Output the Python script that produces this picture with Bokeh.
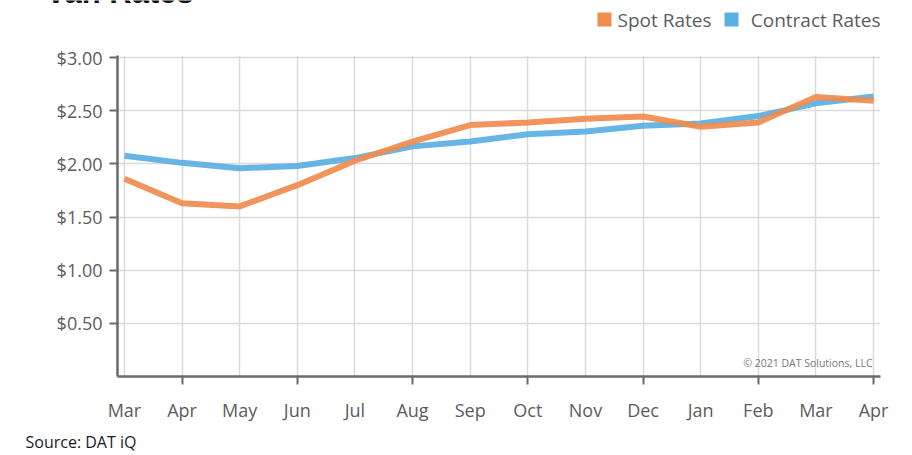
from bokeh.plotting import figure
from bokeh.layouts import column
from bokeh.models import FixedTicker, Range1d, Label, ColumnDataSource
from bokeh.embed import file_html
from bokeh.resources import INLINE

months = ["Mar", "Apr", "May", "Jun", "Jul", "Aug", "Sep", "Oct", "Nov", "Dec",
          "Jan", "Feb", "Mar", "Apr"]
spot_rates = [1.86, 1.63, 1.60, 1.80, 2.03, 2.21, 2.365, 2.39, 2.425, 2.446,
              2.35, 2.39, 2.63, 2.595]
contract_rates = [2.077, 2.01, 1.96, 1.98, 2.055, 2.165, 2.21, 2.28, 2.305, 2.36,
                  2.38, 2.45, 2.57, 2.635]
y_ticks = [0.5, 1.0, 1.5, 2.0, 2.5, 3.0]
y_labels = ["$0.50", "$1.00", "$1.50", "$2.00", "$2.50", "$3.00"]
series_names = ["Spot Rates", "Contract Rates"]

ORANGE = "#F08C4E"
BLUE = "#5AAFE3"
AXIS = "#6a6a6a"
GRID = "#dadada"
TXT = "#5c5c5c"
FONT = "Open Sans"
W = 912

idx = list(range(len(months)))


def blank(h):
    f = figure(width=W, height=h, output_backend="svg", toolbar_location=None,
               x_range=Range1d(0, W), y_range=Range1d(0, h),
               x_axis_type=None, y_axis_type=None, min_border=0)
    f.outline_line_color = None
    f.xgrid.visible = False
    f.ygrid.visible = False
    f.frame_align = False
    return f


# ---- top strip: clipped title + legend ----
TOP_H = 40
top = blank(TOP_H)
top.add_layout(Label(x=45, y=TOP_H + 8, text="Van Rates", text_font="Liberation Sans",
                     text_font_style="bold", text_font_size="31px",
                     text_color="#111111", text_baseline="alphabetic"))
top.quad(left=[597, 724], right=[611, 738], bottom=[TOP_H - 26, TOP_H - 26],
         top=[TOP_H - 12, TOP_H - 12], fill_color=[ORANGE, BLUE], line_color=None)
top.add_layout(Label(x=617, y=TOP_H - 19, text=series_names[0], text_font=FONT,
                     text_font_size="19px", text_color=TXT, text_baseline="middle"))
top.add_layout(Label(x=880, y=TOP_H - 19, text=series_names[1], text_font=FONT,
                     text_font_size="19px", text_color=TXT, text_baseline="middle",
                     text_align="right"))

# ---- main chart ----
p = figure(width=W, height=386, output_backend="svg", toolbar_location=None,
           x_range=Range1d(-0.12, 13.12), y_range=Range1d(0, 3.02),
           min_border_left=117, min_border_right=32, min_border_top=15,
           min_border_bottom=50)
p.outline_line_color = None
p.frame_align = False

src = ColumnDataSource(dict(x=idx, spot=spot_rates, contract=contract_rates))
p.line("x", "contract", source=src, line_color=BLUE, line_width=6, line_alpha=0.92)
p.line("x", "spot", source=src, line_color=ORANGE, line_width=6, line_alpha=0.92)

p.xaxis.ticker = FixedTicker(ticks=idx, minor_ticks=[i for i in idx if i % 2 == 1])
p.xaxis.major_label_overrides = {i: m for i, m in zip(idx, months)}
p.xaxis.major_tick_out = 0
p.xaxis.major_tick_in = 0
p.xaxis.minor_tick_out = 8
p.xaxis.minor_tick_in = 0
p.xaxis.minor_tick_line_color = AXIS
p.xaxis.minor_tick_line_width = 2
p.xaxis.axis_line_color = AXIS
p.xaxis.axis_line_width = 2.5
p.xaxis.major_label_standoff = 13
p.xaxis.major_label_text_font = FONT
p.xaxis.major_label_text_font_size = "18px"
p.xaxis.major_label_text_color = TXT

p.yaxis.ticker = FixedTicker(ticks=y_ticks)
p.yaxis.major_label_overrides = {t: l for t, l in zip(y_ticks, y_labels)}
p.yaxis.major_tick_out = 8
p.yaxis.major_tick_in = 0
p.yaxis.major_tick_line_color = AXIS
p.yaxis.major_tick_line_width = 2
p.yaxis.minor_tick_line_color = None
p.yaxis.axis_line_color = AXIS
p.yaxis.axis_line_width = 2.5
p.yaxis.major_label_standoff = 7
p.yaxis.major_label_text_font = FONT
p.yaxis.major_label_text_font_size = "18px"
p.yaxis.major_label_text_color = TXT

p.xgrid.ticker = FixedTicker(ticks=idx)
p.xgrid.grid_line_color = GRID
p.xgrid.grid_line_width = 1.5
p.ygrid.grid_line_color = GRID
p.ygrid.grid_line_width = 1.5

p.add_layout(Label(x=755, y=7, x_units="screen", y_units="screen",
                   text="© 2021 DAT Solutions, LLC", text_font=FONT,
                   text_font_size="10.5px", text_color="#777777", text_align="right"))

# ---- bottom strip: source ----
BOT_H = 455 - 40 - 386
bot = blank(BOT_H)
bot.add_layout(Label(x=25, y=BOT_H - 15, text="Source: DAT iQ", text_font=FONT,
                     text_font_size="16px", text_color="#1a1a2a",
                     text_baseline="middle"))

layout = column(top, p, bot, spacing=0)
open("out.html", "w").write(file_html(layout, INLINE))
